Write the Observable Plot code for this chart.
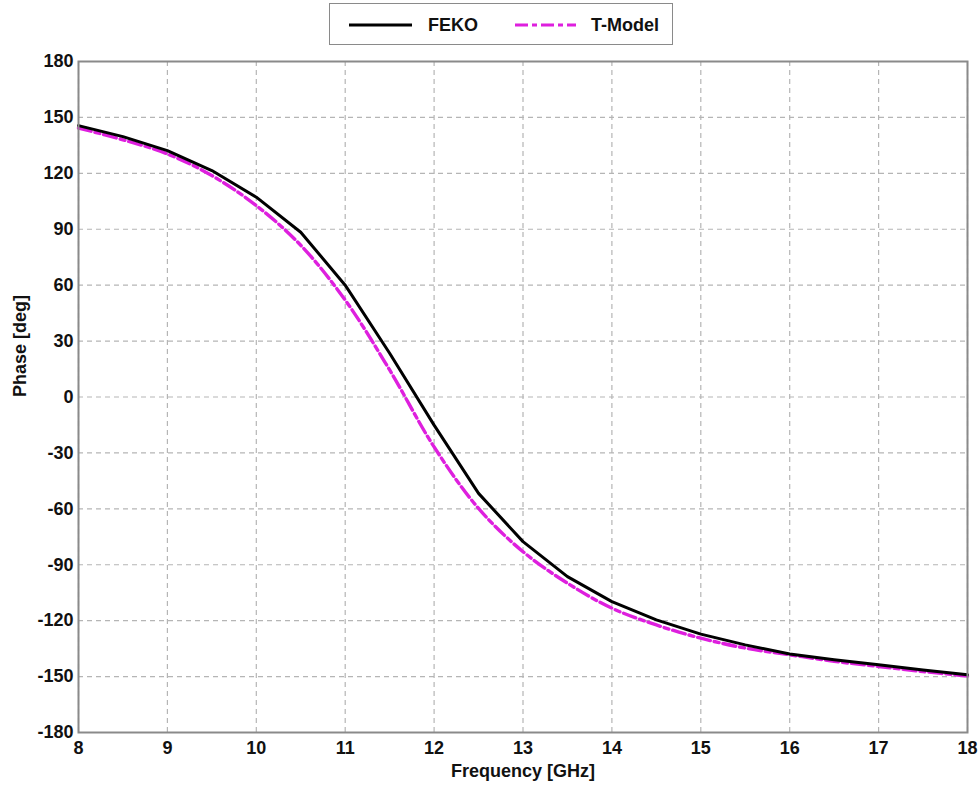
<!DOCTYPE html>
<html>
<head>
<meta charset="utf-8">
<script src="https://cdn.jsdelivr.net/npm/d3@7"></script>
<script src="https://cdn.jsdelivr.net/npm/@observablehq/plot@0.6"></script>
<style>
  html, body { margin: 0; padding: 0; background: #fff; }
  #wrap { position: relative; width: 980px; height: 790px; font-family: "Liberation Sans", Arial, sans-serif; }
  #legend { position: absolute; left: 329px; top: 3px; width: 344px; height: 42px; border: 1.5px solid #8a8a8a; background: #fff; box-sizing: border-box; }
  #legend svg { display: block; }
  #chart { position: absolute; left: 0; top: 0; }
</style>
</head>
<body>
<div id="wrap">
  <div id="chart"></div>
  <div id="legend"></div>
</div>
<script>
const frequency = [8, 8.5, 9, 9.5, 10, 10.5, 11, 11.5, 12, 12.5, 13, 13.5, 14, 14.5, 15, 15.5, 16, 16.5, 17, 17.5, 18];
const feko   = [145.6, 139.7, 132.2, 121.5, 107.2, 88.4, 60, 23.5, -15.1, -51.7, -77.6, -96.4, -109.8, -119.6, -127.2, -133, -137.9, -141, -143.7, -146.5, -149];
const tmodel = [144.3, 138, 130.4, 118.8, 102.7, 81.4, 52, 14.5, -26.8, -59.8, -83, -99.9, -113.3, -122.3, -129.4, -134.7, -138.3, -141.8, -144.6, -147.3, -149.7];
const xTicks = [8, 9, 10, 11, 12, 13, 14, 15, 16, 17, 18];
const yTicks = [-180, -150, -120, -90, -60, -30, 0, 30, 60, 90, 120, 150, 180];
const seriesNames = ["FEKO", "T-Model"];
const xLabel = "Frequency [GHz]";
const yLabel = "Phase [deg]";

const fekoData = frequency.map((f, i) => ({f, v: feko[i]}));
const tData = frequency.map((f, i) => ({f, v: tmodel[i]}));
const magenta = "#de1fde";
const fmt = d => String(d);

const chart = Plot.plot({
  width: 980,
  height: 790,
  marginTop: 61,
  marginBottom: 58,
  marginLeft: 78,
  marginRight: 13,
  style: {fontFamily: "'Liberation Sans', Arial, sans-serif", fontSize: "18px", fontWeight: "bold", color: "#111", background: "#fff"},
  x: {domain: [8, 18], ticks: xTicks},
  y: {domain: [-180, 180], ticks: yTicks},
  marks: [
    Plot.gridX(xTicks, {stroke: "#b5b5b5", strokeOpacity: 1, strokeWidth: 1.2, strokeDasharray: "5,4"}),
    Plot.gridY(yTicks, {stroke: "#b5b5b5", strokeOpacity: 1, strokeWidth: 1.2, strokeDasharray: "5,4"}),
    Plot.axisX(xTicks, {tickSize: 0, tickPadding: 9, label: null, fontSize: 18, fontWeight: "bold", tickFormat: fmt}),
    Plot.axisY(yTicks, {tickSize: 0, tickPadding: 5, label: null, fontSize: 18, fontWeight: "bold", tickFormat: fmt}),
    Plot.line(tData, {x: "f", y: "v", stroke: magenta, strokeWidth: 3.4, strokeDasharray: "13,4,5,4", curve: "catmull-rom"}),
    Plot.line(fekoData, {x: "f", y: "v", stroke: "#000", strokeWidth: 3}),
    Plot.frame({stroke: "#8a8a8a", strokeWidth: 2}),
    Plot.text([xLabel], {frameAnchor: "bottom", dy: 44, fontSize: 18, fontWeight: "bold", fill: "#111"}),
    Plot.text([yLabel], {frameAnchor: "left", dx: -58, rotate: -90, fontSize: 18, fontWeight: "bold", fill: "#111"})
  ]
});
document.getElementById("chart").appendChild(chart);

// Legend
const lg = d3.select("#legend").append("svg").attr("width", 341).attr("height", 39);
lg.append("line").attr("x1", 19).attr("x2", 82).attr("y1", 21).attr("y2", 21).attr("stroke", "#000").attr("stroke-width", 3);
lg.append("text").attr("x", 98).attr("y", 27).text(seriesNames[0])
  .attr("font-family", "'Liberation Sans', Arial, sans-serif").attr("font-weight", "bold").attr("font-size", 18).attr("fill", "#111");
lg.append("line").attr("x1", 185).attr("x2", 246).attr("y1", 21).attr("y2", 21).attr("stroke", magenta).attr("stroke-width", 3).attr("stroke-dasharray", "13,4,5,4");
lg.append("text").attr("x", 261).attr("y", 27).text(seriesNames[1])
  .attr("font-family", "'Liberation Sans', Arial, sans-serif").attr("font-weight", "bold").attr("font-size", 18).attr("fill", "#111");
</script>
</body>
</html>
